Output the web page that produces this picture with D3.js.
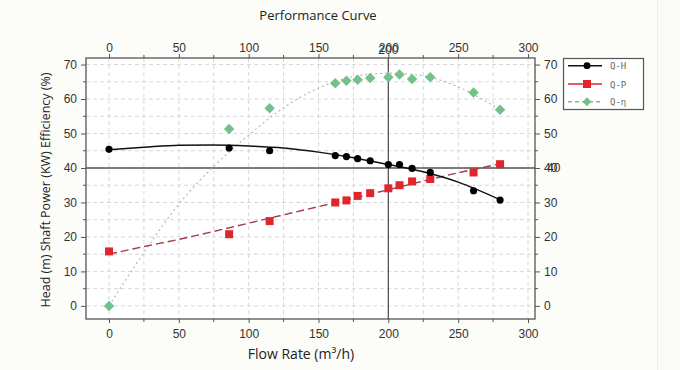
<!DOCTYPE html>
<html><head><meta charset="utf-8">
<script src="https://cdn.jsdelivr.net/npm/d3@7"></script>
<style>
html,body{margin:0;padding:0;background:#fcfcf8;}
svg{display:block;}
</style></head>
<body>
<svg id="chart" width="680" height="370"></svg>
<script>
// ---- data ----
const flow = [0, 86, 115, 162, 170, 178, 187, 200, 208, 217, 230, 261, 280];
const head = [45.4, 45.8, 45.0, 43.6, 43.3, 42.7, 42.1, 41.0, 41.0, 39.9, 38.7, 33.4, 30.7];
const powerFlow = [0, 86, 115, 162, 170, 178, 187, 200, 208, 217, 230, 261, 280];
const power = [15.8, 20.8, 24.6, 30.0, 30.6, 31.9, 32.7, 34.1, 35.0, 36.1, 36.8, 38.7, 41.1];
const effFlow = [0, 86, 115, 162, 170, 178, 187, 200, 208, 217, 230, 261, 280];
const efficiency = [0, 51.3, 57.3, 64.6, 65.3, 65.6, 66.1, 66.3, 67.1, 65.8, 66.3, 61.9, 56.9];
// fitted curves
const fitFlow = [0, 25, 50, 75, 100, 125, 150, 175, 200, 225, 250, 281];
const headFit = [45.3, 46.0, 46.6, 46.7, 46.4, 45.8, 44.6, 43.0, 41.0, 38.9, 35.9, 30.6];
const powerFit = [15.0, 17.2, 19.3, 21.6, 24.0, 26.4, 28.8, 31.2, 33.7, 36.2, 38.6, 41.3];
const effFit = [0, 15.5, 29.5, 40.5, 49.5, 57.5, 63.2, 66.5, 67.5, 66.7, 63.5, 56.6];
const xTicks = [0, 50, 100, 150, 200, 250, 300];
const yTicks = [0, 10, 20, 30, 40, 50, 60, 70];
const seriesNames = ["Q-H", "Q-P", "Q-\u03b7"];

const svg = d3.select("#chart");
const L = 86, R = 535, T = 58, B = 319;
const x = d3.scaleLinear().domain([-16.47, 305]).range([L, R]);
const y = d3.scaleLinear().domain([-3.8, 71.9]).range([B, T]);

// right strip
svg.append("rect").attr("x", 657).attr("y", 0).attr("width", 23).attr("height", 370).attr("fill", "#fafaf8");
svg.append("line").attr("x1", 657.5).attr("x2", 657.5).attr("y1", 0).attr("y2", 370).attr("stroke", "#eeeee8");

// plot area
svg.append("rect").attr("x", L).attr("y", T).attr("width", R - L).attr("height", B - T).attr("fill", "#ffffff");

// grid
const gx = d3.range(0, 301, 25), gy = d3.range(0, 71, 5);
svg.append("g").selectAll("line").data(gx).join("line")
  .attr("x1", d => x(d)).attr("x2", d => x(d)).attr("y1", T).attr("y2", B)
  .attr("stroke", "#d8d8d8").attr("stroke-dasharray", "4,3").attr("stroke-width", 1);
svg.append("g").selectAll("line").data(gy).join("line")
  .attr("y1", d => y(d)).attr("y2", d => y(d)).attr("x1", L).attr("x2", R)
  .attr("stroke", "#d8d8d8").attr("stroke-dasharray", "4,3").attr("stroke-width", 1);

// crosshair
svg.append("line").attr("x1", x(200)).attr("x2", x(200)).attr("y1", T).attr("y2", B).attr("stroke", "#555").attr("stroke-width", 1.3);
svg.append("line").attr("x1", L).attr("x2", R).attr("y1", y(40)).attr("y2", y(40)).attr("stroke", "#555").attr("stroke-width", 1.3);

// axes
const tickFont = "Liberation Sans, Arial, sans-serif";
function styleAxis(g) {
  g.select(".domain").remove();
  g.selectAll(".tick line").attr("stroke", "#555");
  g.selectAll(".tick text").attr("fill", "#333").style("font-family", tickFont).style("font-size", "12px");
}
svg.append("g").attr("transform", `translate(0,${B})`)
  .call(d3.axisBottom(x).tickValues(xTicks).tickFormat(d3.format("d")).tickSize(4).tickPadding(6)).call(styleAxis);
svg.append("g").attr("transform", `translate(0,${T})`)
  .call(d3.axisTop(x).tickValues(xTicks).tickFormat(d3.format("d")).tickSize(4).tickPadding(2)).call(styleAxis);
svg.append("g").attr("transform", `translate(${L},0)`)
  .call(d3.axisLeft(y).tickValues(yTicks).tickFormat(d3.format("d")).tickSize(5).tickPadding(4)).call(styleAxis);
svg.append("g").attr("transform", `translate(${R},0)`)
  .call(d3.axisRight(y).tickValues(yTicks).tickFormat(d3.format("d")).tickSize(5).tickPadding(4)).call(styleAxis);
// minor ticks
const minorX = d3.range(25, 301, 50);
svg.append("g").selectAll("line").data(minorX).join("line")
  .attr("x1", d => x(d)).attr("x2", d => x(d)).attr("y1", B).attr("y2", B + 3).attr("stroke", "#555");
svg.append("g").selectAll("line").data(minorX).join("line")
  .attr("x1", d => x(d)).attr("x2", d => x(d)).attr("y1", T).attr("y2", T - 3).attr("stroke", "#555");
const minorY = d3.range(5, 71, 10);
svg.append("g").selectAll("line").data(minorY).join("line")
  .attr("x1", L).attr("x2", L - 3).attr("y1", d => y(d)).attr("y2", d => y(d)).attr("stroke", "#555");
svg.append("g").selectAll("line").data(minorY).join("line")
  .attr("x1", R).attr("x2", R + 3).attr("y1", d => y(d)).attr("y2", d => y(d)).attr("stroke", "#555");
// crosshair value labels overlapping the axis labels (as in the reference)
svg.append("text").attr("x", x(200)).attr("y", T - 4).attr("text-anchor", "middle")
  .attr("fill", "#333").style("font-family", tickFont).style("font-size", "12px").text("200");
svg.append("text").attr("x", R + 12).attr("y", y(40) + 4).attr("text-anchor", "start")
  .attr("fill", "#333").style("font-family", tickFont).style("font-size", "12px").text("40");

// frame
svg.append("rect").attr("x", L).attr("y", T).attr("width", R - L).attr("height", B - T)
  .attr("fill", "none").attr("stroke", "#555").attr("stroke-width", 1.3);

// fitted lines
const line = d3.line().curve(d3.curveMonotoneX);
svg.append("path").attr("d", line(fitFlow.map((f, i) => [x(f), y(effFit[i])])))
  .attr("fill", "none").attr("stroke", "#b8b8b8").attr("stroke-width", 1.2).attr("stroke-dasharray", "2,3");
svg.append("path").attr("d", line(fitFlow.map((f, i) => [x(f), y(powerFit[i])])))
  .attr("fill", "none").attr("stroke", "#a33a48").attr("stroke-width", 1.4).attr("stroke-dasharray", "8,4");
svg.append("path").attr("d", line(fitFlow.map((f, i) => [x(f), y(headFit[i])])))
  .attr("fill", "none").attr("stroke", "#111").attr("stroke-width", 1.5);

// markers
const green = "#74c08a", red = "#e0262c";
svg.append("g").selectAll("path").data(effFlow.map((f, i) => [f, efficiency[i]])).join("path")
  .attr("transform", d => `translate(${x(d[0])},${y(d[1])})`)
  .attr("d", d3.symbol(d3.symbolDiamond2, 70)).attr("fill", green);
svg.append("g").selectAll("rect").data(powerFlow.map((f, i) => [f, power[i]])).join("rect")
  .attr("x", d => x(d[0]) - 4).attr("y", d => y(d[1]) - 4).attr("width", 8).attr("height", 8).attr("fill", red);
svg.append("g").selectAll("circle").data(flow.map((f, i) => [f, head[i]])).join("circle")
  .attr("cx", d => x(d[0])).attr("cy", d => y(d[1])).attr("r", 3.6).attr("fill", "#000");

// legend
const lg = svg.append("g");
lg.append("rect").attr("x", 563.5).attr("y", 58.5).attr("width", 80).attr("height", 51)
  .attr("fill", "#fff").attr("stroke", "#555").attr("stroke-width", 1.2);
const legY = [65.7, 84, 101.7];
const legStroke = ["#111", red, green];
const legDash = [null, null, "4,3"];
seriesNames.forEach((n, i) => {
  lg.append("line").attr("x1", 568).attr("x2", 602).attr("y1", legY[i]).attr("y2", legY[i])
    .attr("stroke", legStroke[i]).attr("stroke-width", 1.4).attr("stroke-dasharray", legDash[i]);
  if (i === 0) lg.append("circle").attr("cx", 587).attr("cy", legY[i]).attr("r", 3.4).attr("fill", "#000");
  if (i === 1) lg.append("rect").attr("x", 583).attr("y", legY[i] - 4).attr("width", 8).attr("height", 8).attr("fill", red);
  if (i === 2) lg.append("path").attr("transform", `translate(587,${legY[i]})`).attr("d", d3.symbol(d3.symbolDiamond2, 50)).attr("fill", green);
  lg.append("text").attr("x", 610).attr("y", legY[i] + 3.5).attr("fill", "#666")
    .style("font-family", "DejaVu Sans Mono, monospace").style("font-size", "9px").text(n);
});

// titles
svg.append("text").attr("x", 318).attr("y", 20).attr("text-anchor", "middle").attr("fill", "#222")
  .style("font-family", "Open Sans, sans-serif").style("font-size", "13px").text("Performance Curve");
svg.append("text").attr("x", 301).attr("y", 359).attr("text-anchor", "middle").attr("fill", "#222")
  .style("font-family", "Open Sans, sans-serif").style("font-size", "14px").text("Flow Rate (m\u00b3/h)");
svg.append("text").attr("transform", "translate(50,190) rotate(-90)").attr("text-anchor", "middle").attr("fill", "#222")
  .style("font-family", "Open Sans, sans-serif").style("font-size", "12.5px").text("Head (m) Shaft Power (KW) Efficiency (%)");
</script>
</body></html>
